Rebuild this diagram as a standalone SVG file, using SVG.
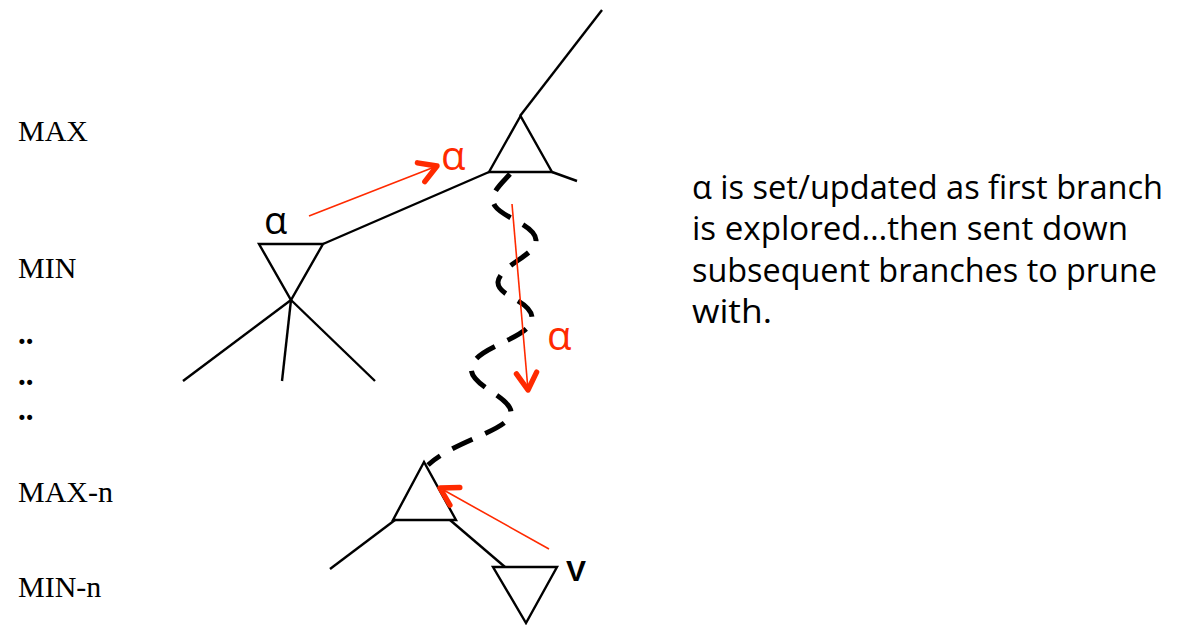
<svg xmlns="http://www.w3.org/2000/svg" width="1178" height="625" viewBox="0 0 1178 625">
<style>
.edge{stroke:#000;stroke-width:2.4;fill:none}
.tri{stroke:#000;stroke-width:2.4;fill:#fff;stroke-linejoin:miter}
.lvl{font-family:"Liberation Serif",serif;font-size:30px;fill:#000}
.dots{font-family:"Liberation Serif",serif;font-size:31px;font-weight:bold;fill:#000}
.note{font-family:"Open Sans","Liberation Sans",sans-serif;font-size:32px;fill:#000}
.red{stroke:#ff2a00;stroke-width:1.6;fill:none}
.ra{font-family:"Open Sans","Liberation Sans",sans-serif;font-size:40px;fill:#ff2a00}
</style>
<defs>
<marker id="chev" markerUnits="userSpaceOnUse" markerWidth="32" markerHeight="32" refX="21" refY="12" orient="auto" viewBox="0 0 30 24">
<path d="M5,2.5 L21,12 L5,21.5" fill="none" stroke="#ff2a00" stroke-width="5" stroke-linecap="round" stroke-linejoin="round"/>
</marker>
</defs>
<g id="labels">
<text class="lvl" x="18" y="141">MAX</text>
<text class="lvl" x="18" y="278">MIN</text>
<text class="dots" x="18" y="344">..</text>
<text class="dots" x="18" y="385">..</text>
<text class="dots" x="18" y="420">..</text>
<text class="lvl" x="18" y="502">MAX-n</text>
<text class="lvl" x="18" y="597">MIN-n</text>
</g>
<g id="connectors">
<line class="edge" x1="520" y1="116" x2="602" y2="10"/>
<line class="edge" x1="552" y1="172" x2="577" y2="181"/>
<line class="edge" x1="489" y1="172" x2="323" y2="244"/>
<line class="edge" x1="291" y1="300" x2="183" y2="381"/>
<line class="edge" x1="291" y1="300" x2="282" y2="381"/>
<line class="edge" x1="291" y1="300" x2="375" y2="381"/>
<line class="edge" x1="395" y1="520" x2="330" y2="569"/>
<line class="edge" x1="450" y1="520" x2="505" y2="567"/>
<path d="M510,174 C500,185 488,195 495,206 C503,218 535,225 536,240 C537,255 500,265 498,282 C497,297 532,300 532,318 C532,338 480,345 472,365 C465,385 510,395 511,412 C512,430 455,440 428,465" fill="none" stroke="#000" stroke-width="5" stroke-dasharray="22 14" stroke-linecap="butt"/>
</g>
<g id="max-root">
<polygon class="tri" points="520.5,116 489,172 552,172"/>
</g>
<g id="min-node">
<polygon class="tri" points="259,244 323,244 291,300"/>
<text x="264" y="234" font-family="Open Sans,Liberation Sans,sans-serif" font-size="38" fill="#000">α</text>
</g>
<g id="max-n">
<polygon class="tri" points="424,462 393,520 456,520"/>
</g>
<g id="min-n">
<polygon class="tri" points="493,567 557,567 526,623"/>
<text x="566" y="581" font-family="Liberation Sans,sans-serif" font-size="30" font-weight="bold" fill="#000">V</text>
</g>
<g id="red-arrows">
<line class="red" x1="309" y1="216" x2="437" y2="166" marker-end="url(#chev)"/>
<text class="ra" x="441" y="170">α</text>
<line class="red" x1="512" y1="204" x2="528" y2="390" marker-end="url(#chev)"/>
<text class="ra" x="547" y="350">α</text>
<line class="red" x1="549" y1="549" x2="440" y2="488" marker-end="url(#chev)"/>
</g>
<g id="note">
<text class="note" x="692" y="199" textLength="471" lengthAdjust="spacingAndGlyphs">α is set/updated as first branch</text>
<text class="note" x="692" y="240" textLength="436" lengthAdjust="spacingAndGlyphs">is explored…then sent down</text>
<text class="note" x="692" y="282" textLength="465" lengthAdjust="spacingAndGlyphs">subsequent branches to prune</text>
<text class="note" x="692" y="323" textLength="80" lengthAdjust="spacingAndGlyphs">with.</text>
</g>
</svg>
